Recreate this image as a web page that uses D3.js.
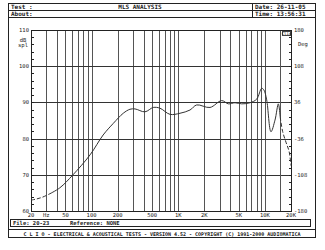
<!DOCTYPE html>
<html>
<head>
<meta charset="utf-8">
<script src="https://cdn.jsdelivr.net/npm/d3@7"></script>
<style>
  body { margin: 0; background: #fff; }
  svg text { font-family: "DejaVu Sans Mono", monospace; fill: #222; }
</style>
</head>
<body>
<svg id="chart" width="325" height="250"></svg>
<script>
// measured SPL curve (Hz, dB spl)
var freqs = [20, 23, 27, 32, 43, 61, 96, 136, 178, 232, 277, 317, 413, 515, 615, 803, 1048, 1367, 1633, 2325, 3170, 3780, 4517, 5400, 6730, 8040, 9180, 9750, 10480, 11750, 13070, 14290, 15000];
var spl   = [63.0, 63.3, 63.8, 64.6, 66.4, 70.0, 75.5, 81.0, 84.2, 87.0, 88.1, 88.2, 87.4, 88.6, 88.4, 86.7, 87.0, 87.9, 89.3, 88.6, 90.5, 89.6, 89.9, 89.6, 89.9, 90.9, 93.9, 93.4, 90.7, 81.9, 85.1, 89.6, 86.0];
// tail above gating limit, drawn dashed
var tailFreqs = [15000, 16000, 17500, 19000, 20000];
var tailSpl   = [86.0, 82.0, 79.0, 76.5, 72.5];

var xTicks = [20, 50, 100, 200, 500, 1000, 2000, 5000, 10000, 20000];
var xTickLabels = ['20', '50', '100', '200', '500', '1K', '2K', '5K', '10K', '20K'];
var dbTicks = [110, 100, 90, 80, 70, 60];
var degLabels = ['180', '108', '36', '-36', '-108', '-180'];

var margin = {left: 31, right: 291, top: 30, bottom: 211};

var svg = d3.select('#chart');

var x = d3.scaleLog().domain([20, 20000]).range([margin.left, margin.right]);
var y = d3.scaleLinear().domain([60, 110]).range([margin.bottom, margin.top]);

// outer frame and header
svg.append('rect').attr('x', 8.5).attr('y', 3.5).attr('width', 307).attr('height', 234)
    .attr('fill', 'none').attr('stroke', '#222');
svg.append('line').attr('x1', 8).attr('x2', 316).attr('y1', 10.5).attr('y2', 10.5).attr('stroke', '#222');
svg.append('line').attr('x1', 8).attr('x2', 316).attr('y1', 17.5).attr('y2', 17.5).attr('stroke', '#222');
svg.append('line').attr('x1', 252.5).attr('x2', 252.5).attr('y1', 3).attr('y2', 18).attr('stroke', '#222');

var hdr = svg.append('g').style('font-size', '6px').style('font-weight', 'bold');
hdr.append('text').attr('x', 11).attr('y', 9).text('Test :');
hdr.append('text').attr('x', 11).attr('y', 16).text('About:');
hdr.append('text').attr('x', 140).attr('y', 9).attr('text-anchor', 'middle').text('MLS ANALYSIS');
hdr.append('text').attr('x', 255).attr('y', 9).text('Date: 26-11-05');
hdr.append('text').attr('x', 255).attr('y', 16).text('Time: 13:56:31');

// grid
var grid = svg.append('g');
var vLines = [];
[10, 100, 1000, 10000].forEach(function(dec) {
    for (var i = 1; i <= 9; i++) {
        var f = dec * i;
        if (f >= 20 && f <= 20000) vLines.push(f);
    }
});
vLines.push(20000);
grid.selectAll('line.v').data(vLines).enter().append('line')
    .attr('class', 'v')
    .attr('x1', function(d) { return Math.round(x(d)) + 0.5; })
    .attr('x2', function(d) { return Math.round(x(d)) + 0.5; })
    .attr('y1', margin.top).attr('y2', margin.bottom)
    .attr('stroke', '#555').attr('stroke-width', 1);
grid.selectAll('line.h').data([100, 90, 80, 70]).enter().append('line')
    .attr('class', 'h')
    .attr('x1', margin.left).attr('x2', margin.right)
    .attr('y1', function(d) { return Math.round(y(d)) + 0.5; })
    .attr('y2', function(d) { return Math.round(y(d)) + 0.5; })
    .attr('stroke', '#333');

// cursor line
svg.append('line').attr('x1', Math.round(x(15000)) + 0.5).attr('x2', Math.round(x(15000)) + 0.5)
    .attr('y1', margin.top).attr('y2', margin.bottom).attr('stroke', '#555');

// plot border
svg.append('rect').attr('x', margin.left + 0.5).attr('y', margin.top + 0.5)
    .attr('width', margin.right - margin.left).attr('height', margin.bottom - margin.top)
    .attr('fill', 'none').attr('stroke', '#222');

// left minor ticks
var minor = d3.range(60, 111, 2);
svg.selectAll('line.lt').data(minor).enter().append('line')
    .attr('x1', margin.left).attr('x2', margin.left + 3)
    .attr('y1', function(d) { return Math.round(y(d)) + 0.5; })
    .attr('y2', function(d) { return Math.round(y(d)) + 0.5; })
    .attr('stroke', '#222');
svg.selectAll('line.rt').data(minor).enter().append('line')
    .attr('x1', margin.right - 2).attr('x2', margin.right + 1)
    .attr('y1', function(d) { return Math.round(y(d)) + 0.5; })
    .attr('y2', function(d) { return Math.round(y(d)) + 0.5; })
    .attr('stroke', '#222');

// axis labels
var lab = svg.append('g').style('font-size', '5.5px');
lab.selectAll('text.db').data(dbTicks).enter().append('text')
    .attr('x', margin.left - 2).attr('y', function(d) { return y(d) + 2; })
    .attr('text-anchor', 'end').text(function(d) { return d; });
lab.selectAll('text.deg').data(dbTicks).enter().append('text')
    .attr('x', margin.right + 3).attr('y', function(d) { return y(d) + 2; })
    .text(function(d, i) { return degLabels[i]; });
lab.append('text').attr('x', 23).attr('y', 42).attr('text-anchor', 'middle').text('dB');
lab.append('text').attr('x', 23).attr('y', 47).attr('text-anchor', 'middle').text('spl');
lab.append('text').attr('x', 298).attr('y', 46).text('Deg');
lab.selectAll('text.xt').data(xTicks).enter().append('text')
    .attr('x', function(d) { return x(d); }).attr('y', 217)
    .attr('text-anchor', 'middle').text(function(d, i) { return xTickLabels[i]; });
lab.append('text').attr('x', x(30)).attr('y', 217).attr('text-anchor', 'middle').text('Hz');

// Clio badge
svg.append('rect').attr('x', 282.5).attr('y', 31.5).attr('width', 8).attr('height', 4)
    .attr('fill', '#fff').attr('stroke', '#444');
svg.append('text').attr('x', 286.5).attr('y', 35).attr('text-anchor', 'middle')
    .style('font-size', '4px').text('Clio');

// curve
var line = d3.line()
    .x(function(d) { return x(d[0]); })
    .y(function(d) { return y(d[1]); })
    .curve(d3.curveCatmullRom);
var main = freqs.map(function(f, i) { return [f, spl[i]]; });
svg.append('path').datum(main.slice(0, 4)).attr('d', line)
    .attr('fill', 'none').attr('stroke', '#333').attr('stroke-dasharray', '4,2');
svg.append('path').datum(main.slice(3)).attr('d', line)
    .attr('fill', 'none').attr('stroke', '#333').attr('stroke-width', 1);
svg.append('path').datum(tailFreqs.map(function(f, i) { return [f, tailSpl[i]]; })).attr('d', line)
    .attr('fill', 'none').attr('stroke', '#333').attr('stroke-dasharray', '4,2');

// footer
svg.append('rect').attr('x', 10.5).attr('y', 219.5).attr('width', 300).attr('height', 7)
    .attr('fill', 'none').attr('stroke', '#222');
var ft = svg.append('g').style('font-size', '5.5px').style('font-weight', 'bold');
ft.append('text').attr('x', 13).attr('y', 225).text('File: 20-23');
ft.append('text').attr('x', 70).attr('y', 225).text('Reference: NONE');
svg.append('line').attr('x1', 8).attr('x2', 316).attr('y1', 229.5).attr('y2', 229.5).attr('stroke', '#222');
ft.append('text').attr('x', 162).attr('y', 235.5).attr('text-anchor', 'middle')
    .style('font-size', '5px')
    .text('C L I O  -  ELECTRICAL & ACOUSTICAL TESTS  -  VERSION 4.52  -  COPYRIGHT (C) 1991-2000 AUDIOMATICA');
</script>
</body>
</html>
